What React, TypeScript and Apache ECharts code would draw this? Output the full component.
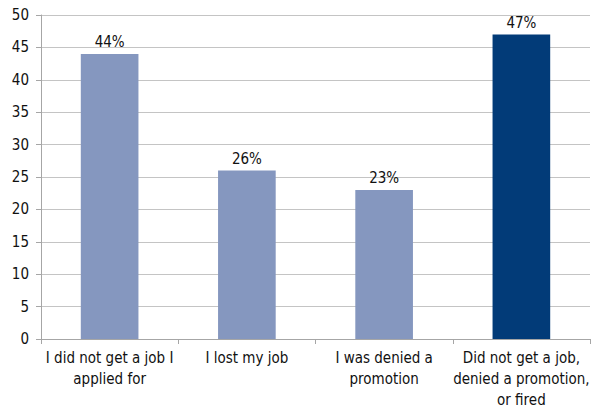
import React, { useEffect, useRef } from "react";
import * as echarts from "echarts";

const categories = [
  "I did not get a job I\napplied for",
  "I lost my job",
  "I was denied a\npromotion",
  "Did not get a job,\ndenied a promotion,\nor fired",
];
const values = [44, 26, 23, 47];
const barColors = ["#8597BF", "#8597BF", "#8597BF", "#023B78"];

const FONT = "'DejaVu Sans Condensed', 'Roboto', sans-serif";

export default function App() {
  const ref = useRef<HTMLDivElement>(null);
  useEffect(() => {
    const chart = echarts.init(ref.current!, undefined, { renderer: "svg" });
    chart.setOption({
      animation: false,
      grid: { left: 41, right: 11, top: 15, bottom: 72, containLabel: false },
      xAxis: {
        type: "category",
        data: categories,
        axisLine: { lineStyle: { color: "#a6a6a6", width: 1 } },
        axisTick: { show: true, length: 5, lineStyle: { color: "#a6a6a6" } },
        axisLabel: {
          color: "#111",
          fontFamily: FONT,
          fontSize: 15,
          lineHeight: 21,
          margin: 8,
          interval: 0,
        },
      },
      yAxis: {
        type: "value",
        min: 0,
        max: 50,
        interval: 5,
        axisLine: { show: true, lineStyle: { color: "#a6a6a6", width: 1 } },
        axisTick: { show: true, length: 5, lineStyle: { color: "#a6a6a6" } },
        splitLine: { lineStyle: { color: "#c4c4c4", width: 1 } },
        axisLabel: { color: "#111", fontFamily: FONT, fontSize: 15, margin: 12 },
      },
      series: [
        {
          type: "bar",
          data: values.map((v, i) => ({ value: v, itemStyle: { color: barColors[i] } })),
          barWidth: "42%",
          label: {
            show: true,
            position: "top",
            distance: 4,
            formatter: "{c}%",
            color: "#111",
            fontFamily: FONT,
            fontSize: 15,
          },
        },
      ],
    });
    return () => chart.dispose();
  }, []);
  return <div ref={ref} style={{ width: 601, height: 411, position: "absolute", left: 0, top: 0, background: "#fff" }} />;
}
